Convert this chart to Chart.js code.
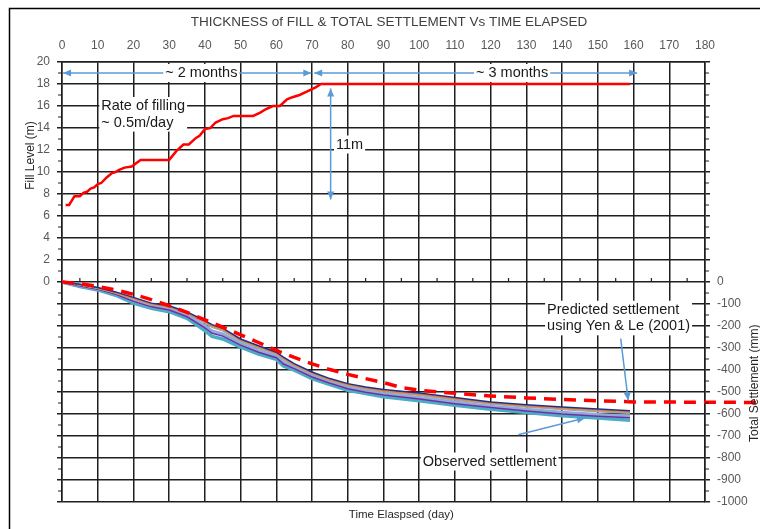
<!DOCTYPE html>
<html>
<head>
<meta charset="UTF-8">
<title>Thickness of Fill & Total Settlement vs Time Elapsed</title>
<script src="https://cdn.jsdelivr.net/npm/chart.js"></script>
<style>
  body { margin: 0; background: #fff; }
  #wrap { width: 760px; height: 529px; }
</style>
</head>
<body>
<div id="wrap"><canvas id="chart" width="760" height="529"></canvas></div>
<script>
// fill level (m) vs day
const fillDays  = [1, 2, 3.5, 5, 6, 7, 8, 9, 10, 11, 12.5, 14, 15, 16, 17.5, 19.5, 22, 30, 32, 34, 35.5, 37.5, 38.5, 40, 41.5, 43, 45, 46.5, 48, 53.5, 55.5, 57, 59, 61, 63, 64.5, 66.5, 68.5, 71, 72.5, 159];
const fillLevel = [7.0, 7.0, 7.8, 7.8, 8.1, 8.2, 8.5, 8.6, 8.9, 9.0, 9.5, 9.9, 10.0, 10.2, 10.4, 10.5, 11.1, 11.1, 11.9, 12.5, 12.5, 13.1, 13.3, 13.9, 14.0, 14.5, 14.8, 14.9, 15.1, 15.1, 15.4, 15.7, 16.0, 16.0, 16.6, 16.8, 17.0, 17.3, 17.7, 18.0, 18.0];

// predicted settlement (mm), Yen & Le (2001) - runs on past the axis
const predDays   = [0, 5, 10, 15, 20, 25, 30, 35, 40, 45, 50, 55, 60, 65, 70, 75, 80, 85, 90, 95, 100, 110, 120, 130, 140, 150, 160, 200];
const predSettle = [0, -8, -20, -36, -56, -80, -108, -138, -172, -205, -240, -275, -311, -343, -372, -398, -420, -439, -457, -480, -492, -506, -518, -527, -534, -540, -545, -548];

// observed settlement (mm), several gauges
const obsDays   = [0, 5, 10, 15, 20, 25, 30, 35, 40, 42, 45, 50, 55, 60, 62, 65, 70, 75, 80, 85, 90, 100, 110, 120, 130, 140, 150, 159];
const obsNavy   = [0, -10, -25, -45, -70, -96, -108, -136, -176, -194, -210, -259, -290, -319, -341, -371, -409, -439, -462, -477, -489, -505, -525, -545, -558, -568, -577, -585];
const obsOrange = [0, -12, -27, -48, -74, -99, -111, -140, -180, -199, -215, -263, -294, -322, -346, -375, -413, -443, -466, -481, -494, -510, -530, -549, -562, -573, -582, -590];
const obsGreen  = [0, -13, -28, -49, -76, -101, -113, -142, -183, -203, -219, -266, -297, -325, -350, -378, -416, -446, -469, -484, -497, -513, -533, -552, -565, -577, -586, -594];
const obsGray   = [0, -14, -29, -50, -78, -103, -116, -145, -186, -206, -222, -270, -301, -328, -353, -380, -418, -448, -471, -487, -499, -515, -536, -555, -568, -580, -590, -597];
const obsPurple = [0, -18, -33, -56, -88, -113, -127, -158, -208, -233, -246, -287, -319, -344, -373, -394, -432, -460, -485, -501, -514, -532, -553, -571, -586, -600, -610, -617];
const obsLtBlue = [0, -16, -31, -53, -84, -109, -123, -153, -200, -224, -237, -280, -312, -338, -366, -389, -427, -456, -480, -496, -508, -526, -547, -566, -580, -593, -603, -611];
const obsTeal   = [0, -21, -36, -60, -96, -120, -135, -165, -221, -247, -259, -296, -328, -352, -382, -401, -439, -466, -492, -507, -522, -540, -560, -578, -593, -608, -618, -628];

const FONT = '"Liberation Sans", Arial, sans-serif';
const GRID = '#1f1f1f';
const BLUE = '#5B9BD5';

const pts = (xs, ys) => xs.map((d, i) => ({ x: d, y: ys[i] }));

function obs(data, color, width) {
  return { data: pts(obsDays, data), yAxisID: 'yS', borderColor: color, borderWidth: width, pointRadius: 0 };
}

function arrowHead(ctx, x1, y1, x2, y2) {
  const a = Math.atan2(y2 - y1, x2 - x1), L = 8, W = 3.5;
  ctx.beginPath();
  ctx.moveTo(x2, y2);
  ctx.lineTo(x2 - L * Math.cos(a) + W * Math.sin(a), y2 - L * Math.sin(a) - W * Math.cos(a));
  ctx.lineTo(x2 - L * Math.cos(a) - W * Math.sin(a), y2 - L * Math.sin(a) + W * Math.cos(a));
  ctx.closePath();
  ctx.fill();
}

function arrow(ctx, x1, y1, x2, y2, both) {
  ctx.beginPath(); ctx.moveTo(x1, y1); ctx.lineTo(x2, y2); ctx.stroke();
  arrowHead(ctx, x1, y1, x2, y2);
  if (both) arrowHead(ctx, x2, y2, x1, y1);
}

// text block on a white box, y = centre of first line
function note(ctx, lines, x, y, align) {
  ctx.font = '14.5px ' + FONT;
  const lh = 16.6;
  const w = Math.max(...lines.map(l => ctx.measureText(l).width));
  const left = align === 'center' ? x - w / 2 : x;
  ctx.fillStyle = '#fff';
  ctx.fillRect(left - 2, y - 9, w + 4, lh * (lines.length - 1) + 18);
  ctx.fillStyle = '#1a1a1a';
  ctx.textAlign = 'left';
  ctx.textBaseline = 'middle';
  lines.forEach((l, i) => ctx.fillText(l, left, y + i * lh));
}

const extras = {
  id: 'extras',
  afterDatasetsDraw(chart) {
    const { ctx, scales: { x, yF, yS } } = chart;
    const X = v => x.getPixelForValue(v), F = v => yF.getPixelForValue(v), S = v => yS.getPixelForValue(v);
    ctx.save();
    ctx.strokeStyle = BLUE; ctx.fillStyle = BLUE; ctx.lineWidth = 1.5;
    arrow(ctx, X(0.3), F(19), X(69.8), F(19), true);
    arrow(ctx, X(70.6), F(19), X(161), F(19), true);
    arrow(ctx, X(75.2), F(17.6), X(75.2), F(7.5), true);
    arrow(ctx, X(156.4), S(-257), X(158.5), S(-539));
    arrow(ctx, X(127.7), S(-694), X(146.4), S(-618));
    note(ctx, ['~ 2 months'], X(39), F(19), 'center');
    note(ctx, ['~ 3 months'], X(126), F(19), 'center');
    note(ctx, ['Rate of filling', '~ 0.5m/day'], X(11), F(16), 'left');
    note(ctx, ['11m'], X(76.7), F(12.5), 'left');
    note(ctx, ['Predicted settlement', 'using Yen & Le (2001)'], X(135.8), S(-126), 'left');
    note(ctx, ['Observed settlement'], X(101), S(-816), 'left');
    ctx.restore();
  },
  afterDraw(chart) {
    const { ctx, chartArea: a, scales: { x, yF, yS } } = chart;
    ctx.save();
    // minor ticks
    ctx.strokeStyle = GRID; ctx.lineWidth = 1.2;
    ctx.beginPath();
    for (let v = -19; v <= 19; v += 2) {
      const py = yF.getPixelForValue(v);
      ctx.moveTo(a.left - 4, py); ctx.lineTo(a.left, py);
    }
    for (let v = -950; v <= 950; v += 100) {
      const py = yS.getPixelForValue(v);
      ctx.moveTo(a.right, py); ctx.lineTo(a.right + 4, py);
    }
    const y0 = yS.getPixelForValue(0);
    for (let d = 5; d < 180; d += 10) {
      const px = x.getPixelForValue(d);
      ctx.moveTo(px, y0); ctx.lineTo(px, y0 - 4);
    }
    ctx.stroke();

    // frame
    ctx.strokeStyle = '#000'; ctx.lineWidth = 1.5;
    ctx.strokeRect(9.5, 8.5, 1000, 1000);

    // titles
    ctx.fillStyle = '#404040';
    ctx.textAlign = 'center'; ctx.textBaseline = 'middle';
    ctx.font = '13.5px ' + FONT;
    ctx.fillText('THICKNESS of FILL & TOTAL SETTLEMENT Vs TIME ELAPSED', 389, 22);
    ctx.fillStyle = '#262626';
    ctx.font = '11.5px ' + FONT;
    ctx.fillText('Time Elaspsed (day)', x.getPixelForValue(95), 515);
    ctx.font = '12px ' + FONT;
    ctx.save();
    ctx.translate(31, yF.getPixelForValue(11.5)); ctx.rotate(-Math.PI / 2);
    ctx.fillText('Fill Level (m)', 0, 0);
    ctx.restore();
    ctx.save();
    ctx.translate(755, yS.getPixelForValue(-460)); ctx.rotate(-Math.PI / 2);
    ctx.fillText('Total Settlement (mm)', 0, 0);
    ctx.restore();
    ctx.restore();
  }
};

const tickFont = { family: FONT, size: 12 };

new Chart(document.getElementById('chart'), {
  type: 'line',
  data: {
    datasets: [
      { data: pts(fillDays, fillLevel), yAxisID: 'yF', borderColor: '#FF0000', borderWidth: 2.5, pointRadius: 0 },
      { data: pts(predDays, predSettle), yAxisID: 'yS', borderColor: '#FF0000', borderWidth: 3.5,
        borderDash: [12, 8], pointRadius: 0, clip: false },
      obs(obsNavy, '#1F2F8F', 1.5),
      obs(obsOrange, '#ED7D31', 1.5),
      obs(obsGray, '#A5A5A5', 1.5),
      obs(obsGreen, '#9BBB59', 1.5),
      obs(obsPurple, '#7030A0', 1.5),
      obs(obsLtBlue, '#8FAADC', 3.5),
      obs(obsTeal, '#4BACC6', 3.5)
    ]
  },
  options: {
    responsive: false,
    animation: false,
    devicePixelRatio: 1,
    layout: { padding: { left: 0, right: 0, top: 0, bottom: 27 } },
    plugins: { legend: { display: false }, tooltip: { enabled: false } },
    elements: { line: { tension: 0 } },
    scales: {
      x: {
        type: 'linear', position: 'top', min: 0, max: 180,
        ticks: { stepSize: 10, autoSkip: false, maxRotation: 0, padding: 9, color: '#595959', font: tickFont },
        grid: { color: GRID, lineWidth: 1.5, drawTicks: false },
        border: { color: GRID, width: 1.5 },
        afterFit: s => { s.height = 62; }
      },
      yF: {
        position: 'left', min: -20, max: 20,
        ticks: { stepSize: 2, autoSkip: false, padding: 7, color: '#595959', font: tickFont,
                 callback: v => v >= 0 ? v : '' },
        grid: { color: GRID, lineWidth: 1.5, tickLength: 5 },
        border: { color: GRID, width: 1.5 },
        afterFit: s => { s.width = 62; }
      },
      yS: {
        position: 'right', min: -1000, max: 1000,
        ticks: { stepSize: 100, autoSkip: false, padding: 7, color: '#595959', font: tickFont,
                 callback: v => v <= 0 ? v : '' },
        grid: { drawOnChartArea: false, color: GRID, lineWidth: 1.5, tickLength: 5 },
        border: { color: GRID, width: 1.5 },
        afterFit: s => { s.width = 55; }
      }
    }
  },
  plugins: [extras]
});
</script>
</body>
</html>
